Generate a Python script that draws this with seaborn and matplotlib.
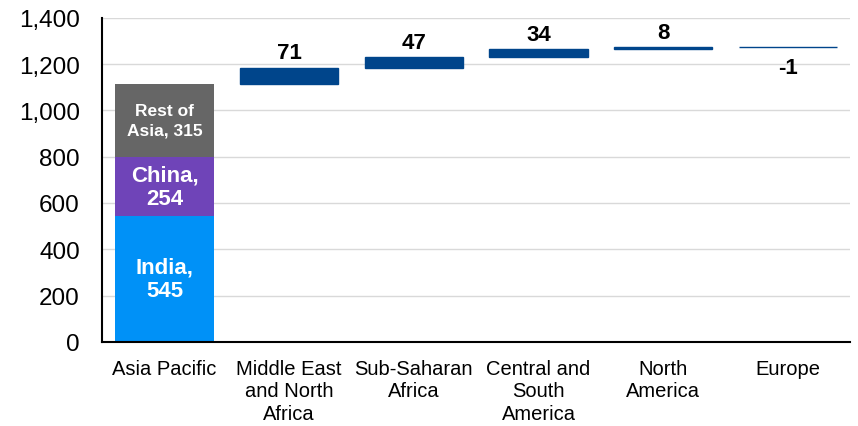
"""Waterfall of regional additions, Asia Pacific split by country."""

import matplotlib

matplotlib.use("Agg")
import matplotlib.pyplot as plt
import numpy as np
import seaborn as sns
from matplotlib.ticker import FuncFormatter


CATEGORIES = [
    "Asia Pacific",
    "Middle East\nand North\nAfrica",
    "Sub-Saharan\nAfrica",
    "Central and\nSouth\nAmerica",
    "North\nAmerica",
    "Europe",
]
ASIA_VALUES = [545, 254, 315]
ASIA_LABELS = ["India,\n545", "China,\n254", "Rest of\nAsia, 315"]
ASIA_COLORS = ["#0091F7", "#6F44B8", "#666666"]
CHANGE_VALUES = [71, 47, 34, 8, -1]
CHANGE_COLOR = "#00458B"
Y_TICKS = [0, 200, 400, 600, 800, 1000, 1200, 1400]

BAR_WIDTH = 0.79


def main() -> None:
    sns.set_theme(style="white")
    plt.rcParams["font.family"] = ["Liberation Sans", "DejaVu Sans"]

    figure = plt.figure(figsize=(8.58, 4.27), dpi=100)
    axis = figure.add_axes([0.119, 0.197, 0.872, 0.759])

    # stacked Asia Pacific column
    bottom = 0
    for value, label, color in zip(ASIA_VALUES, ASIA_LABELS, ASIA_COLORS):
        sns.barplot(
            x=[CATEGORIES[0]],
            y=[value],
            order=CATEGORIES,
            color=color,
            saturation=1,
            width=BAR_WIDTH,
            bottom=bottom,
            linewidth=0,
            ax=axis,
        )
        small = "\n" in label.split(",")[0]
        axis.text(
            0,
            bottom + value / 2,
            label,
            ha="center",
            va="center",
            color="white",
            fontweight="bold",
            fontsize=12.5 if small else 16,
            linespacing=1.4 if small else 1.15,
        )
        bottom += value

    # floating change bars
    starts = list(np.cumsum([bottom] + CHANGE_VALUES[:-1]))
    sns.barplot(
        x=CATEGORIES[1:],
        y=CHANGE_VALUES,
        order=CATEGORIES,
        color=CHANGE_COLOR,
        saturation=1,
        width=BAR_WIDTH,
        bottom=starts,
        edgecolor=CHANGE_COLOR,
        linewidth=1.0,
        ax=axis,
    )
    for patch, value in zip(axis.patches[-len(CHANGE_VALUES):], CHANGE_VALUES):
        x_center = patch.get_x() + patch.get_width() / 2
        y_edge = patch.get_y() + patch.get_height()
        offset, va = (3, "bottom") if value >= 0 else (-7, "top")
        axis.annotate(
            f"{value}",
            (x_center, y_edge),
            xytext=(0, offset),
            textcoords="offset points",
            ha="center",
            va=va,
            fontsize=16,
            fontweight="bold",
            color="black",
        )

    axis.set_ylim(0, 1400)
    axis.set_yticks(Y_TICKS)
    axis.yaxis.set_major_formatter(FuncFormatter(lambda v, _: f"{v:,.0f}"))
    axis.yaxis.grid(True, color="#D9D9D9", linewidth=1)
    axis.set_axisbelow(True)
    axis.set_xlim(-0.5, len(CATEGORIES) - 0.5)
    axis.set_xlabel("")
    axis.set_ylabel("")

    for side in ("top", "right"):
        axis.spines[side].set_visible(False)
    for side in ("left", "bottom"):
        axis.spines[side].set_color("black")
        axis.spines[side].set_linewidth(1.5)

    axis.tick_params(axis="y", length=0, pad=16, labelsize=17.5, colors="black")
    axis.tick_params(axis="x", which="major", length=0, pad=12, colors="black")
    axis.set_xticks(np.arange(-0.5, len(CATEGORIES)), minor=True)
    axis.tick_params(
        axis="x", which="minor", length=7, width=1.5, direction="out", color="black"
    )
    for tick_label in axis.get_xticklabels():
        tick_label.set_fontsize(14.5)
        tick_label.set_linespacing(1.25)

    figure.savefig("out.png", dpi=100)
    plt.close(figure)


if __name__ == "__main__":
    main()
